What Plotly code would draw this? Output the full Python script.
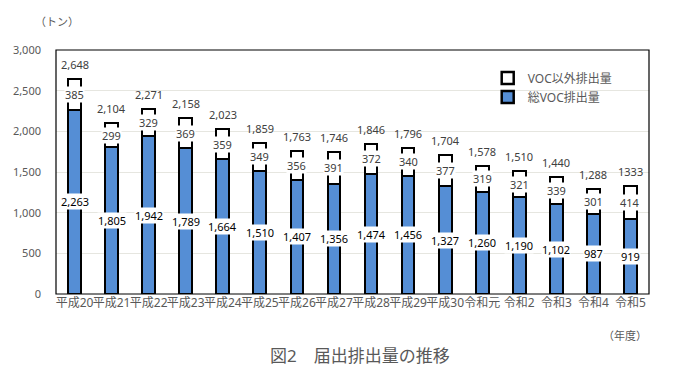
import plotly.graph_objects as go

categories = ["平成20", "平成21", "平成22", "平成23", "平成24", "平成25", "平成26", "平成27",
              "平成28", "平成29", "平成30", "令和元", "令和2", "令和3", "令和4", "令和5"]
voc_total = [2263, 1805, 1942, 1789, 1664, 1510, 1407, 1356, 1474, 1456, 1327, 1260, 1190, 1102, 987, 919]
non_voc = [385, 299, 329, 369, 359, 349, 356, 391, 372, 340, 377, 319, 321, 339, 301, 414]
total_labels = ["2,648", "2,104", "2,271", "2,158", "2,023", "1,859", "1,763", "1,746",
                "1,846", "1,796", "1,704", "1,578", "1,510", "1,440", "1,288", "1333"]
y_ticks = [0, 500, 1000, 1500, 2000, 2500, 3000]
y_tick_labels = ["0", "500", "1,000", "1,500", "2,000", "2,500", "3,000"]

FONT = "Noto Sans, Noto Sans CJK JP, sans-serif"
BLUE = "#558ED5"
GREY = "#595959"
DARK = "#404040"

fig = go.Figure()
fig.add_trace(go.Bar(x=categories, y=voc_total, name="総VOC排出量",
                     marker=dict(color=BLUE, line=dict(color="black", width=2.5)),
                     width=0.345))
fig.add_trace(go.Bar(x=categories, y=non_voc, name="VOC以外排出量",
                     marker=dict(color="white", line=dict(color="black", width=2.5)),
                     width=0.345))

anns = []
for c, v, o, t in zip(categories, voc_total, non_voc, total_labels):
    anns.append(dict(x=c, y=v / 2, text=f"{v:,}", showarrow=False, bgcolor="white",
                     borderpad=0, font=dict(family=FONT, size=11, color="black")))
    anns.append(dict(x=c, y=v + o / 2, text=f"{o:,}", showarrow=False, bgcolor="white",
                     borderpad=0, font=dict(family=FONT, size=11, color=DARK)))
    anns.append(dict(x=c, y=v + o, text=t, showarrow=False, yanchor="bottom", yshift=5,
                     font=dict(family=FONT, size=11, color=DARK)))

anns.append(dict(xref="paper", yref="paper", x=-0.039, y=1.115, xanchor="left", yanchor="middle",
                 text="（トン）", showarrow=False, font=dict(family=FONT, size=11, color=GREY)))
anns.append(dict(xref="paper", yref="paper", x=1.0, y=-0.172, xanchor="right", yanchor="middle",
                 text="（年度）", showarrow=False, font=dict(family=FONT, size=11, color=GREY)))
anns.append(dict(xref="paper", yref="paper", x=0.513, y=-0.25, xanchor="center", yanchor="middle",
                 text="図2　届出排出量の推移", showarrow=False,
                 font=dict(family=FONT, size=17, color=GREY)))

fig.update_layout(
    width=677, height=374,
    margin=dict(l=48, r=36, t=42, b=88),
    barmode="stack",
    bargap=0,
    plot_bgcolor="white", paper_bgcolor="white",
    showlegend=True,
    legend=dict(x=0.728, y=0.945, xanchor="left", yanchor="top", traceorder="reversed",
                bgcolor="rgba(0,0,0,0)", font=dict(family=FONT, size=12, color=GREY),
                itemwidth=30, tracegroupgap=0),
    annotations=anns,
    shapes=[dict(type="rect", xref="paper", yref="paper", x0=0, x1=1, y0=0, y1=1,
                 line=dict(color="black", width=1.2), layer="above")],
    xaxis=dict(showline=False, tickfont=dict(family=FONT, size=12, color=GREY), ticks="",
               showgrid=False, tickangle=0, automargin=False),
    yaxis=dict(range=[0, 3000], tickvals=y_ticks, ticktext=y_tick_labels, showline=False,
               gridcolor="#E6E6E0", gridwidth=1, zeroline=False, automargin=False,
               tickfont=dict(family=FONT, size=11, color=GREY), ticks="", ticklabelstandoff=14),
)

fig.write_html("out.html")
